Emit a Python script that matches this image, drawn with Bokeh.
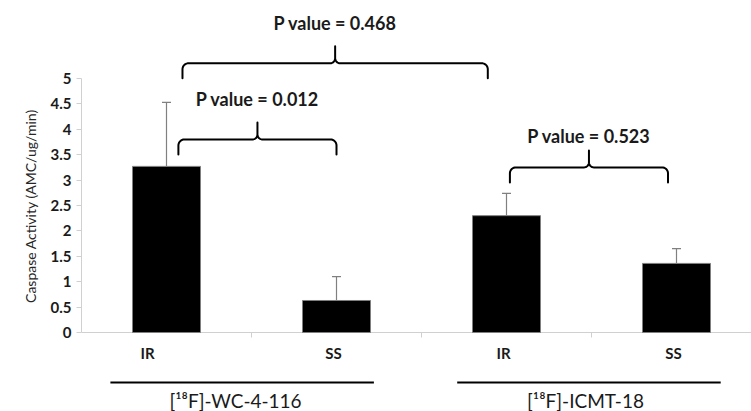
import numpy as np
from bokeh.plotting import figure
from bokeh.models import ColumnDataSource, Whisker, TeeHead, FixedTicker, Range1d
from bokeh.core.properties import value
from bokeh.embed import file_html
from bokeh.resources import INLINE

# ---------------- data ----------------
conditions = ["IR", "SS", "IR", "SS"]
groups = ["[\u00b9\u2078F]-WC-4-116", "[\u00b9\u2078F]-ICMT-18"]
means = [3.27, 0.63, 2.30, 1.36]
errors = [1.26, 0.47, 0.44, 0.29]
y_ticks = [0, 0.5, 1, 1.5, 2, 2.5, 3, 3.5, 4, 4.5, 5]
y_tick_labels = ["0", "0.5", "1", "1.5", "2", "2.5", "3", "3.5", "4", "4.5", "5"]
p_values = ["0.012", "0.468", "0.523"]
brace_left = [0.57, 0.594, 2.52]
brace_right = [1.50, 2.39, 3.45]
brace_level = [3.80, 5.30, 3.25]
p_text_level = [4.59, 6.10, 3.86]

# ---------------- layout ----------------
W, H = 751, 411
LEFT = 81
PX_X = 170.0     # pixels per category
PX_Y = 50.8      # pixels per unit
ZERO_PX = 332    # canvas px of y=0 from top
FONT = "Lato"

x_end = (W - LEFT) / PX_X
y_start = -(H - ZERO_PX) / PX_Y
y_end = ZERO_PX / PX_Y

p = figure(width=W, height=H, output_backend="svg", toolbar_location=None,
           x_range=Range1d(0, x_end), y_range=Range1d(y_start, y_end),
           x_axis_location=None, min_border_left=LEFT, min_border_right=0,
           min_border_top=0, min_border_bottom=0)
p.outline_line_color = None
p.grid.visible = False
p.background_fill_color = "white"
p.border_fill_color = "white"

# y axis
ya = p.yaxis[0]
ya.bounds = (0, 5)
ya.ticker = FixedTicker(ticks=y_ticks)
ya.major_label_overrides = {t: l for t, l in zip(y_ticks, y_tick_labels)}
ya.axis_line_color = "#d0d0d0"
ya.major_tick_line_color = "#d0d0d0"
ya.minor_tick_line_color = None
ya.major_tick_out = 5
ya.major_tick_in = 0
ya.major_label_text_font = FONT
ya.major_label_text_font_style = "bold"
ya.major_label_text_font_size = "15px"
ya.major_label_text_color = "#1a1a1a"
ya.major_label_standoff = 5
ya.axis_label = "Caspase Activity (AMC/ug/min)"
ya.axis_label_text_font = FONT
ya.axis_label_text_font_style = "normal"
ya.axis_label_text_font_size = "14px"
ya.axis_label_text_color = "#262626"
ya.axis_label_standoff = 9

# x axis line & category ticks
n = len(means)
xc = np.arange(n) + 0.5
p.segment(x0=[0], y0=[0], x1=[x_end], y1=[0], line_color="#d0d0d0", line_width=1)
bounds = np.arange(1, n)
p.segment(x0=bounds, y0=[0] * len(bounds), x1=bounds, y1=[-5 / PX_Y] * len(bounds),
          line_color="#d0d0d0", line_width=1)

# bars
src = ColumnDataSource(dict(x=xc, top=means, lower=means,
                            upper=[m + e for m, e in zip(means, errors)]))
p.vbar(x="x", top="top", bottom=0, width=0.4, source=src,
       fill_color="black", line_color="#7f7f7f", line_width=1)
p.add_layout(Whisker(base="x", lower="lower", upper="upper", source=src,
                     dimension="height", line_color="#808080", line_width=1.2,
                     upper_head=TeeHead(size=9, line_color="#808080", line_width=1.2),
                     lower_head=None, level="overlay"))

# condition labels
label_dx = [-19, -3, -3, -3]
p.text(x=xc, y=[-20 / PX_Y] * n, text=conditions, x_offset=label_dx,
       text_align="center", text_baseline="middle",
       text_font=value(FONT), text_font_style="bold", text_font_size="15px",
       text_color="#1a1a1a")

# group lines and labels
gc = np.array([1.0, 3.0])
line_c = gc - np.array([0.055, 0.015])
p.segment(x0=line_c - 0.775, y0=[-50 / PX_Y] * 2, x1=line_c + 0.775, y1=[-50 / PX_Y] * 2,
          line_color="black", line_width=2)
p.text(x=gc, y=[-68 / PX_Y] * 2, text=groups, x_offset=[-16, -6],
       text_align="center", text_baseline="middle", text_font=value(FONT),
       text_font_size="19px", text_color="#1a1a1a")

# braces
def brace(x0, x1, yh, depth=15, rad=6, mrad=5, spike=17, k=10):
    xm = (x0 + x1) / 2
    dx, dy = rad / PX_X, rad / PX_Y
    mdx, mdy = mrad / PX_X, mrad / PX_Y
    xs = [x0]
    ys = [yh - depth / PX_Y]
    a = np.linspace(np.pi, np.pi / 2, k)
    xs += list(x0 + dx + dx * np.cos(a))
    ys += list(yh - dy + dy * np.sin(a))
    a = np.linspace(-np.pi / 2, 0, k)
    xs += list(xm - mdx + mdx * np.cos(a))
    ys += list(yh + mdy + mdy * np.sin(a))
    xs.append(xm)
    ys.append(yh + spike / PX_Y)
    rx = [x0 + x1 - v for v in xs[::-1][1:]]
    ry = ys[::-1][1:]
    return xs + rx, ys + ry

bx, by = [], []
for l, r, yh in zip(brace_left, brace_right, brace_level):
    a, b = brace(l, r, yh)
    bx.append(a)
    by.append(b)
p.multi_line(xs=bx, ys=by, line_color="black", line_width=2,
             line_join="round", line_cap="round")

p.text(x=[(l + r) / 2 for l, r in zip(brace_left, brace_right)], y=p_text_level,
       text=["P value = " + v for v in p_values], text_align="center",
       text_baseline="middle", text_font=value(FONT), text_font_style="bold",
       text_font_size="18px", text_color="#1a1a1a")

open("out.html", "w").write(file_html(p, INLINE))
